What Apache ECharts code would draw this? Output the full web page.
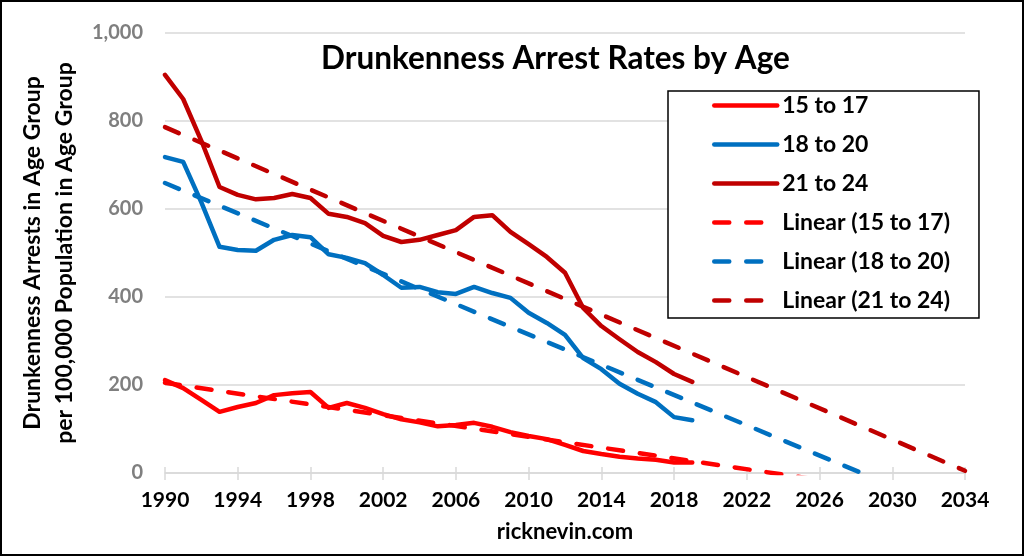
<!DOCTYPE html>
<html>
<head>
<meta charset="utf-8">
<script src="https://cdn.jsdelivr.net/npm/echarts@6/dist/echarts.min.js"></script>
<style>
html,body{margin:0;padding:0;background:#fff;}
#wrap{position:relative;width:1024px;height:556px;}
#chart{position:absolute;left:0;top:0;width:1024px;height:556px;}
#frame{position:absolute;left:0;top:0;width:1024px;height:556px;box-sizing:border-box;border:2px solid #000;pointer-events:none;}
</style>
</head>
<body>
<div id="wrap"><div id="chart"></div><div id="frame"></div></div>
<script>
var years = [1990,1991,1992,1993,1994,1995,1996,1997,1998,1999,2000,2001,2002,2003,2004,2005,2006,2007,2008,2009,2010,2011,2012,2013,2014,2015,2016,2017,2018,2019];
var age15to17 = [211,193,166,139,150,159,177,181,184,148,159,148,134,122,115,106,109,114,105,93,84,77,64,50,43,37,33,30,24,24];
var age18to20 = [718,707,615,514,507,505,530,541,536,497,489,477,450,421,423,411,407,423,409,398,364,341,314,261,236,203,180,161,127,120];
var age21to24 = [905,850,755,650,632,622,625,634,625,589,582,568,539,525,530,541,552,582,586,548,520,491,455,375,334,304,275,252,225,207];
var trendYears = [1990, 2034];
var trend15to17 = [205, -65];
var trend18to20 = [659, -98];
var trend21to24 = [786, 5];
var seriesNames = ['15 to 17','18 to 20','21 to 24','Linear (15 to 17)','Linear (18 to 20)','Linear (21 to 24)'];
var xTicks = {min:1990, max:2034, interval:4};
var yTicks = {min:0, max:1000, interval:200};

function pairs(xs, ys){ return xs.map(function(x,i){ return [x, ys[i]]; }); }

var FONT = 'Lato';
var RED = '#ff0000', BLUE = '#0070c0', DARK = '#c00000';
var dash = [15,17];
var LW = 4.5;
var GRIDC = '#d9d9d9';

var chart = echarts.init(document.getElementById('chart'), null, {renderer:'canvas'});
function solid(name, data, color){
  return {name:name, type:'line', data:data, symbol:'none', z:3,
    lineStyle:{color:color, width:LW, cap:'round', join:'round'}, itemStyle:{color:color}};
}
function trend(name, data, color){
  return {name:name, type:'line', data:data, symbol:'none', z:2,
    lineStyle:{color:color, width:LW, type:dash, cap:'round'}, itemStyle:{color:color}};
}
chart.setOption({
  animation:false,
  backgroundColor:'#fff',
  title:{text:'Drunkenness Arrest Rates by Age', left:316, top:38,
    textStyle:{fontFamily:FONT, fontWeight:'bold', fontSize:31.5, color:'#000'}},
  grid:{left:165, right:59, top:33, bottom:83},
  legend:{data:seriesNames, orient:'vertical', left:668, top:91,
    itemWidth:63, itemHeight:22, itemGap:16, padding:[3,29,6,44],
    borderColor:'#000', borderWidth:1.5, backgroundColor:'#fff',
    itemStyle:{opacity:0},
    lineStyle:{width:LW},
    textStyle:{fontFamily:FONT, fontWeight:'bold', fontSize:23, color:'#000'}},
  xAxis:[{type:'value', min:xTicks.min, max:xTicks.max, interval:xTicks.interval, position:'bottom',
    name:'ricknevin.com', nameLocation:'middle', nameGap:48,
    nameTextStyle:{fontFamily:FONT, fontWeight:'bold', fontSize:22, color:'#000'},
    axisLine:{lineStyle:{color:GRIDC, width:1.5}},
    axisTick:{show:true, length:7, lineStyle:{color:GRIDC, width:1.5}},
    axisLabel:{fontFamily:FONT, fontWeight:'bold', fontSize:21, color:'#000', margin:17,
      formatter:function(v){return String(v);}},
    splitLine:{show:false}},
   {type:'value', min:xTicks.min, max:xTicks.max, interval:xTicks.interval, position:'bottom', offset:0,
    axisLine:{show:false}, axisLabel:{show:false}, splitLine:{show:false},
    axisTick:{show:true, inside:true, length:6, lineStyle:{color:GRIDC, width:1.5}}}],
  yAxis:{type:'value', min:yTicks.min, max:yTicks.max, interval:yTicks.interval,
    name:'Drunkenness Arrests in Age Group\nper 100,000 Population in Age Group',
    nameLocation:'middle', nameRotate:90, nameGap:77,
    nameTextStyle:{fontFamily:FONT, fontWeight:'bold', fontSize:23, color:'#000', lineHeight:32},
    axisLine:{show:false}, axisTick:{show:false},
    axisLabel:{fontFamily:FONT, fontWeight:'bold', fontSize:20, color:'#7f7f7f', margin:22,
      formatter:function(v){return v.toLocaleString('en-US');}},
    splitLine:{lineStyle:{color:GRIDC, width:1.5}}},
  series:[
    solid(seriesNames[0], pairs(years, age15to17), RED),
    solid(seriesNames[1], pairs(years, age18to20), BLUE),
    solid(seriesNames[2], pairs(years, age21to24), DARK),
    trend(seriesNames[3], pairs(trendYears, trend15to17), RED),
    trend(seriesNames[4], pairs(trendYears, trend18to20), BLUE),
    trend(seriesNames[5], pairs(trendYears, trend21to24), DARK)
  ]
});
</script>
</body>
</html>
